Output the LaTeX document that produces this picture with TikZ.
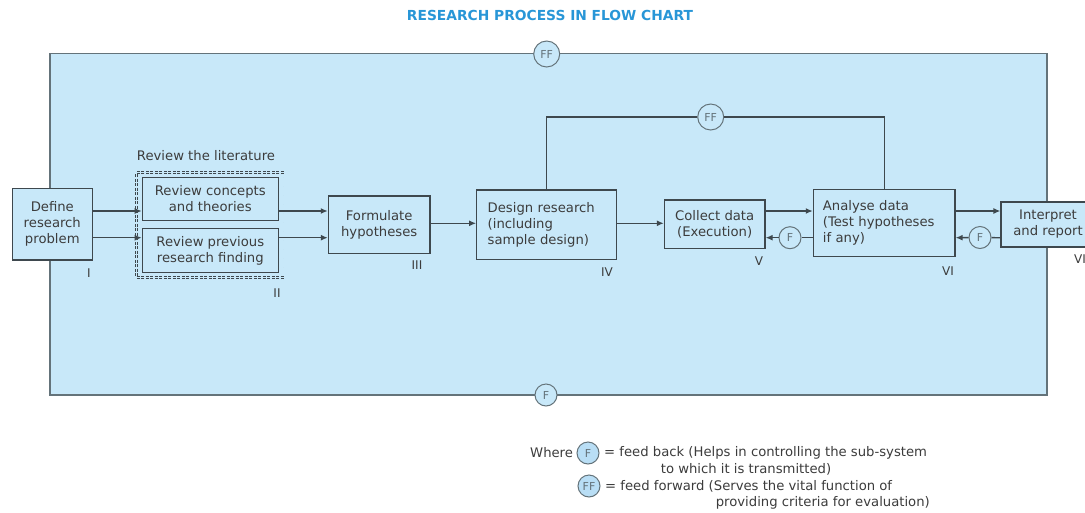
\documentclass[tikz,border=0pt]{standalone}
\usepackage{fontspec}
\setmainfont{DejaVu Sans}
\usetikzlibrary{arrows.meta,calc}
\definecolor{bgblue}{RGB}{200,232,249}
\definecolor{titleblue}{RGB}{40,150,215}
\definecolor{linegray}{RGB}{62,72,78}
\definecolor{framegray}{RGB}{100,115,122}
\definecolor{txtgray}{RGB}{60,60,60}
\definecolor{circfill}{RGB}{185,222,245}
\begin{document}
\begin{tikzpicture}[x=1pt,y=-1pt,
  box/.style={draw=linegray, line width=1.2pt, fill=bgblue, inner sep=0pt, align=center,
    font=\fontsize{13.2}{16}\selectfont, text=txtgray},
  litbox/.style={draw=linegray, line width=0.7pt, double=bgblue, double distance=1.2pt,
    dash pattern=on 3pt off 1.5pt, inner sep=0pt},
  conn/.style={draw=linegray, line width=1.3pt},
  arr/.style={conn, -{Latex[length=7pt,width=6pt]}},
  fbc/.style={circle, draw=framegray, line width=1pt, fill=bgblue, minimum size=22pt,
    inner sep=0pt, font=\fontsize{11}{11}\selectfont, text=framegray},
  ffc/.style={fbc, minimum size=26pt},
  num/.style={font=\fontsize{12}{12}\selectfont, text=txtgray, inner sep=0pt},
  legend/.style={font=\fontsize{13.2}{16}\selectfont, text=txtgray, inner sep=0pt},
]
\useasboundingbox (0,0) rectangle (1085,512);
\clip (0,0) rectangle (1085,512);
\fill[white] (0,0) rectangle (1085,512);

% title
\node[font=\bfseries\fontsize{13.8}{14}\selectfont, text=titleblue] (title) at (550,15.5)
  {RESEARCH PROCESS IN FLOW CHART};

% outer frame
\draw[draw=framegray, line width=1.8pt, fill=bgblue] (50,53.5) rectangle (1046.7,395);
\node[ffc] (fftop) at (546.7,54) {FF};
\node[fbc] (fbot) at (546,395) {F};

% boxes
\node[box, minimum width=80pt, minimum height=71.7pt] (define) at (52.3,224.2)
  {Define\\research\\problem};
\node[litbox, minimum width=147.3pt, minimum height=104.6pt] (lit) at (210.35,225) {};
\node[legend] (littitle) at (206,156) {Review the literature};
\node[box, minimum width=136pt, minimum height=43.4pt] (concepts) at (210.3,199)
  {Review concepts\\and theories};
\node[box, minimum width=136pt, minimum height=44pt] (previous) at (210.3,250.7)
  {Review previous\\research finding};
\node[box, minimum width=101.7pt, minimum height=57.3pt] (formulate) at (379.2,224.7)
  {Formulate\\hypotheses};
\node[box, align=left, inner xsep=11pt, text width=118pt, minimum height=69.3pt] (design)
  at (546.7,224.7) {Design research\\(including\\sample design)};
\node[box, minimum width=100.7pt, minimum height=48.3pt] (collect) at (714.7,224.2)
  {Collect data\\(Execution)};
\node[box, align=left, inner xsep=9.5pt, text width=122.7pt, minimum height=67.4pt] (analyse)
  at (884.2,223) {Analyse data\\(Test hypotheses\\if any)};
\node[box, minimum width=94pt, minimum height=45pt] (interpret) at (1048,224.5)
  {Interpret\\and report};

% feedback circles
\node[fbc] (f1) at (790,237.7) {F};
\node[fbc] (f2) at (980,237.5) {F};
\node[ffc] (ffloop) at (710.7,117) {FF};

% levels
\coordinate (yU) at (0,211);
\coordinate (yL) at (0,237.7);
\coordinate (yM) at (0,223.3);

% connectors
\draw[arr] (define.east |- yU) -- (concepts.west |- yU);
\draw[arr] (define.east |- yL) -- (previous.west |- yL);
\draw[arr] (concepts.east |- yU) -- (formulate.west |- yU);
\draw[arr] (previous.east |- yL) -- (formulate.west |- yL);
\draw[arr] (formulate.east |- yM) -- (design.west |- yM);
\draw[arr] (design.east |- yM) -- (collect.west |- yM);
\draw[arr] (collect.east |- yU) -- (analyse.west |- yU);
\draw[conn] (analyse.west |- yL) -- (f1);
\draw[arr] (f1) -- (collect.east |- yL);
\draw[arr] (analyse.east |- yU) -- (interpret.west |- yU);
\draw[conn] (interpret.west |- yL) -- (f2);
\draw[arr] (f2) -- (analyse.east |- yL);
\draw[conn] (design.north) |- (ffloop.west);
\draw[conn] (ffloop.east) -| (analyse.north);

% roman numerals
\node[num] (nI) at (89,273) {I};
\node[num] (nII) at (277,293) {II};
\node[num] (nIII) at (417,265) {III};
\node[num] (nIV) at (607,272) {IV};
\node[num] (nV) at (759,261) {V};
\node[num] (nVI) at (948,271) {VI};
\node[num, anchor=west] (nVII) at (1074,259) {VII};

% legend
\node[legend, anchor=west] (where) at (530,453) {Where};
\node[fbc, fill=circfill] (lf) at (588,453) {F};
\node[legend, anchor=west] (l1) at (604,453) {= feed back (Helps in controlling the sub-system};
\node[legend] (l2) at (746,469.5) {to which it is transmitted)};
\node[fbc, fill=circfill] (lff) at (589,486) {FF};
\node[legend, anchor=west] (l3) at (605,486) {= feed forward (Serves the vital function of};
\node[legend, anchor=east] (l4) at (930,502.5) {providing criteria for evaluation)};
\end{tikzpicture}
\end{document}
